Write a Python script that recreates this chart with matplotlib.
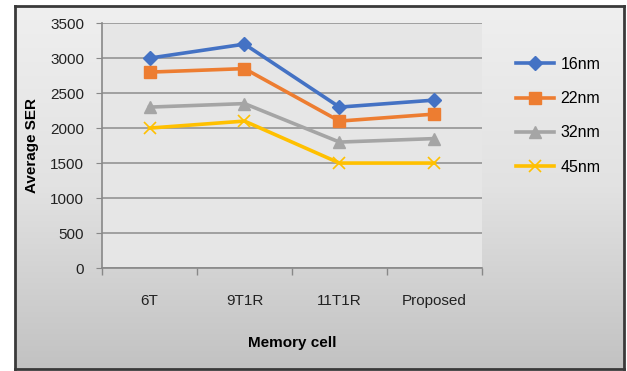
import numpy as np
import matplotlib.pyplot as plt
from matplotlib.colors import LinearSegmentedColormap

plt.rcParams['font.family'] = ['Liberation Sans Narrow', 'Liberation Sans', 'DejaVu Sans']

cells = ['6T', '9T1R', '11T1R', 'Proposed']
ser_16nm = [3000, 3200, 2300, 2400]
ser_22nm = [2800, 2850, 2100, 2200]
ser_32nm = [2300, 2350, 1800, 1850]
ser_45nm = [2000, 2100, 1500, 1500]

series = [
    ('16nm', ser_16nm, '#4472C4', 'D', 7),
    ('22nm', ser_22nm, '#ED7D31', 's', 8),
    ('32nm', ser_32nm, '#A5A5A5', '^', 8),
    ('45nm', ser_45nm, '#FFC000', 'x', 9),
]

fig = plt.figure(figsize=(6.27, 3.71), dpi=100)
fig.patch.set_facecolor('white')

# gradient chart background with a dark frame
bg = fig.add_axes([0.024, 0.005, 0.972, 0.98])
grad = np.linspace(0, 1, 256).reshape(-1, 1)
cmap = LinearSegmentedColormap.from_list('g', ['#efefef', '#e2e2e2', '#c2c2c2'])
bg.imshow(grad, aspect='auto', cmap=cmap, extent=[0, 1, 0, 1], origin='upper')
bg.set_xlim(0, 1)
bg.set_ylim(0, 1)
bg.set_xticks([])
bg.set_yticks([])
for s in bg.spines.values():
    s.set_color('#3a3a3a')
    s.set_linewidth(2)

ax = fig.add_axes([0.1627, 0.2776, 0.606, 0.660])
ax.set_facecolor('#e6e6e6')
x = np.arange(len(cells))
for name, vals, col, mk, ms in series:
    mew = 1.2 if mk == 'x' else 1.0
    ax.plot(x, vals, color=col, lw=2.6, marker=mk, ms=ms, mew=mew, label=name)

ax.set_xlim(-0.5, len(cells) - 0.5)
ax.set_ylim(0, 3500)
ax.set_yticks(np.arange(0, 3501, 500))
ax.set_xticks(x)
ax.set_xticklabels(cells)
ax.set_xticks(np.arange(-0.5, len(cells)), minor=True)
ax.tick_params(axis='x', which='major', length=0, pad=19, labelsize=11, labelcolor='#222222')
ax.tick_params(axis='x', which='minor', length=5, color='#888888', width=1)
ax.tick_params(axis='y', length=4, color='#888888', labelsize=11, labelcolor='#222222', pad=9)
ax.yaxis.grid(True, color='#a0a0a0', lw=1.4)
ax.set_axisbelow(True)
for s in ['top', 'right']:
    ax.spines[s].set_visible(False)
for s in ['left', 'bottom']:
    ax.spines[s].set_color('#888888')
    ax.spines[s].set_linewidth(1.2)

ax.set_ylabel('Average SER', fontweight='bold', fontsize=11, labelpad=8)
ax.set_xlabel('Memory cell', fontweight='bold', fontsize=11, labelpad=20)

fig.legend(loc='upper left', bbox_to_anchor=(0.80, 0.885), frameon=False,
           fontsize=11.5, handlelength=2.4, labelspacing=1.2, handletextpad=0.4)

fig.savefig('out.png', dpi=100)
